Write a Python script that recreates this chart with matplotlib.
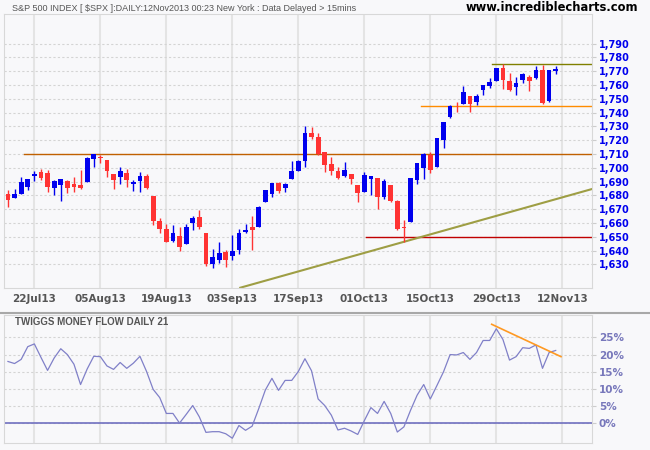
import numpy as np
import pandas as pd
import matplotlib
matplotlib.use('Agg')
import matplotlib.pyplot as plt
from matplotlib.lines import Line2D

# Trading days (market closed on Labor Day)
days = pd.bdate_range('2013-07-16', '2013-11-12').drop(pd.Timestamp('2013-09-02'))

opens = [1681.0, 1677.9, 1681.1, 1686.2, 1694.4, 1696.6, 1696.1, 1685.2, 1687.3, 1690.3,
         1687.9, 1687.8, 1689.4, 1706.1, 1708.0, 1705.8, 1695.3, 1693.4, 1696.1, 1688.4,
         1690.7, 1693.9, 1679.6, 1661.2, 1655.3, 1646.8, 1650.7, 1645.0, 1659.9, 1664.3,
         1652.5, 1630.3, 1633.5, 1638.9, 1636.0, 1640.7, 1653.3, 1657.4, 1656.9, 1675.1,
         1681.0, 1689.2, 1685.0, 1691.7, 1697.7, 1705.0, 1725.5, 1722.4, 1711.4, 1702.6,
         1697.3, 1693.8, 1695.5, 1687.3, 1682.4, 1691.9, 1692.4, 1678.8, 1687.2, 1676.2,
         1657.0, 1660.9, 1691.1, 1699.9, 1709.2, 1700.5, 1720.2, 1736.7, 1744.7, 1746.5,
         1752.3, 1747.5, 1756.0, 1759.4, 1762.9, 1772.3, 1763.2, 1758.7, 1763.4, 1765.7,
         1765.0, 1770.7, 1748.4, 1770.0]
highs = [1683.7, 1684.8, 1693.1, 1692.1, 1697.6, 1698.8, 1698.4, 1690.9, 1691.9, 1690.9,
         1693.2, 1698.4, 1707.9, 1709.7, 1709.2, 1705.8, 1695.3, 1700.2, 1699.4, 1691.5,
         1696.8, 1695.5, 1679.6, 1663.6, 1659.2, 1658.9, 1657.0, 1659.6, 1664.9, 1669.5,
         1652.5, 1641.2, 1646.4, 1640.1, 1651.4, 1655.7, 1659.2, 1664.8, 1672.4, 1684.1,
         1689.1, 1690.0, 1688.7, 1705.0, 1705.5, 1729.9, 1729.4, 1725.2, 1711.4, 1707.6,
         1700.5, 1703.9, 1695.5, 1687.3, 1696.6, 1693.9, 1692.4, 1691.9, 1687.2, 1676.8,
         1662.5, 1692.6, 1703.4, 1711.0, 1711.6, 1721.8, 1733.5, 1745.3, 1747.8, 1759.3,
         1752.3, 1753.2, 1759.8, 1765.0, 1772.1, 1775.2, 1768.5, 1765.7, 1768.8, 1767.0,
         1773.7, 1774.5, 1770.8, 1773.4]
lows = [1671.8, 1677.9, 1681.1, 1684.1, 1690.7, 1691.1, 1682.6, 1680.1, 1676.0, 1681.9,
        1682.4, 1684.9, 1689.4, 1700.7, 1703.6, 1693.3, 1684.9, 1688.4, 1686.0, 1683.4,
        1682.6, 1684.8, 1658.6, 1652.6, 1646.1, 1646.1, 1639.4, 1645.0, 1654.8, 1656.0,
        1629.1, 1627.5, 1630.9, 1628.1, 1633.4, 1637.4, 1653.1, 1640.6, 1656.9, 1675.1,
        1678.7, 1682.0, 1682.2, 1691.7, 1697.7, 1700.4, 1720.7, 1708.9, 1697.1, 1694.9,
        1691.9, 1693.1, 1688.0, 1675.0, 1682.1, 1680.3, 1670.4, 1677.3, 1675.0, 1655.0,
        1646.5, 1660.9, 1688.5, 1692.1, 1695.9, 1700.5, 1714.1, 1735.7, 1740.6, 1746.5,
        1740.5, 1745.2, 1752.5, 1757.7, 1762.9, 1757.2, 1755.7, 1752.7, 1761.6, 1755.8,
        1764.4, 1746.2, 1747.6, 1767.9]
closes = [1676.3, 1680.9, 1689.4, 1692.1, 1695.5, 1692.4, 1685.9, 1690.3, 1691.7, 1685.3,
          1686.0, 1685.7, 1706.9, 1709.7, 1707.1, 1697.4, 1690.9, 1697.5, 1691.4, 1689.5,
          1694.2, 1685.4, 1661.3, 1655.8, 1646.1, 1652.4, 1642.8, 1657.0, 1663.5, 1656.8,
          1630.5, 1635.0, 1638.2, 1633.0, 1639.8, 1653.1, 1655.1, 1655.2, 1671.7, 1684.0,
          1689.1, 1683.4, 1688.0, 1697.6, 1704.8, 1725.5, 1722.3, 1709.9, 1701.8, 1697.4,
          1692.8, 1698.7, 1691.8, 1681.6, 1695.0, 1693.9, 1678.7, 1690.5, 1676.1, 1655.5,
          1656.4, 1692.6, 1703.2, 1710.1, 1698.1, 1721.5, 1733.2, 1744.5, 1744.5, 1754.7,
          1746.4, 1752.1, 1759.8, 1762.1, 1772.0, 1763.3, 1756.5, 1761.6, 1767.9, 1763.0,
          1770.5, 1747.2, 1770.6, 1771.9]

# Twiggs Money Flow (21), percent
tmf = [18.0, 17.4, 18.6, 22.3, 23.1, 19.2, 15.4, 19.0, 21.7, 20.0,
       17.2, 11.3, 15.8, 19.5, 19.4, 16.7, 15.7, 17.7, 16.0, 17.5,
       19.5, 15.1, 9.9, 7.5, 2.9, 2.9, 0.1, 2.6, 5.2, 1.9,
       -2.6, -2.4, -2.4, -3.0, -4.3, -0.6, -2.0, -0.8, 4.3, 9.7,
       13.1, 9.6, 12.5, 12.5, 15.1, 18.8, 15.3, 7.1, 5.2, 2.4,
       -1.9, -1.4, -2.2, -3.2, 0.8, 4.6, 2.9, 6.4, 2.9, -2.5,
       -1.0, 3.8, 8.2, 11.3, 7.1, 11.0, 15.0, 20.0, 19.9, 20.6,
       18.6, 20.6, 24.1, 24.1, 27.5, 24.4, 18.4, 19.4, 22.0, 21.8,
       22.8, 16.0, 20.6, 21.2]

tick_dates = ['2013-07-22', '2013-08-05', '2013-08-19', '2013-09-03', '2013-09-17',
              '2013-10-01', '2013-10-15', '2013-10-29', '2013-11-12']
tick_labels = ['22Jul13', '05Aug13', '19Aug13', '03Sep13', '17Sep13',
               '01Oct13', '15Oct13', '29Oct13', '12Nov13']
price_ticks = list(range(1630, 1800, 10))
tmf_ticks = [0, 5, 10, 15, 20, 25]

# drawn support / resistance levels (start day index, price)
levels = [(2.4, 1710, '#C06000'), (73.3, 1775, '#808000'),
          (62.6, 1745, '#FF8C00'), (54.2, 1650, '#C00000')]
trend_x = [35.2, 88.5]
trend_y = [1613.1, 1684.6]
tmf_trend_x = [73.3, 83.8]
tmf_trend_y = [28.8, 19.4]

bg = '#F8F8FA'
fig = plt.figure(figsize=(6.5, 4.5), dpi=100, facecolor=bg)
ax = fig.add_axes([4/650, 1 - 288/450, 588/650, 274/450], facecolor=bg)
ax2 = fig.add_axes([4/650, 1 - 442.7/450, 588/650, 127.7/450], facecolor=bg)

o = np.array(opens)
h = np.array(highs)
l = np.array(lows)
c = np.array(closes)
x = np.arange(len(c))
tick_pos = days.get_indexer(pd.to_datetime(tick_dates))
xlim = (-0.6, 88.5)

# candles
colors = np.where(c > o, '#0000EE', '#FF3333')
ax.vlines(x, l, h, colors=colors, lw=1, zorder=3)
ax.bar(x, np.maximum(np.abs(c - o), 0.6), width=0.72, bottom=np.minimum(o, c),
       color=colors, linewidth=0, zorder=3)

for start, lev, col in levels:
    ax.plot([start, xlim[1]], [lev, lev], color=col, lw=1.0, zorder=2)
ax.plot(trend_x, trend_y, color='#9E9E44', lw=1.5, zorder=2)

ax.set_xlim(*xlim)
ax.set_ylim(1612.9, 1811.4)
ax.set_xticks(tick_pos)
ax.set_xticklabels(tick_labels)
ax.yaxis.tick_right()
ax.set_yticks(price_ticks)
ax.set_yticklabels([f'{v:,}' for v in price_ticks], fontweight='bold')
ax.tick_params(axis='x', length=0, pad=4, labelsize=7.5, labelcolor='#555555')
ax.tick_params(axis='y', length=3, color='#CCCCCC', pad=2, labelsize=7,
               labelcolor='#0000EE')
for lab in ax.get_xticklabels():
    lab.set_fontweight('bold')
ax.set_axisbelow(True)
ax.grid(axis='x', color='#E4E4E4', lw=1.5)
ax.grid(axis='y', color='#D4D4D4', lw=0.8, ls=(0, (2, 2)))
for s in ax.spines.values():
    s.set_color('#D8D8D8')

# money flow panel
ax2.plot(x, tmf, color='#8080C8', lw=0.9, zorder=3)
ax2.axhline(0, color='#7070C0', lw=1.2, zorder=2)
ax2.plot(tmf_trend_x, tmf_trend_y, color='#FF9922', lw=1.2, zorder=4)
ax2.set_xlim(*xlim)
ax2.set_ylim(-5.6, 31.5)
ax2.set_xticks(tick_pos)
ax2.set_xticklabels([])
ax2.yaxis.tick_right()
ax2.set_yticks(tmf_ticks)
ax2.set_yticklabels([f'{v}%' for v in tmf_ticks], fontweight='bold')
ax2.tick_params(axis='x', length=0)
ax2.tick_params(axis='y', length=3, color='#CCCCCC', pad=2, labelsize=7.5,
                labelcolor='#7777BB')
ax2.set_axisbelow(True)
ax2.grid(axis='x', color='#E4E4E4', lw=1.5)
ax2.grid(axis='y', color='#D4D4D4', lw=0.8, ls=(0, (2, 2)))
for s in ax2.spines.values():
    s.set_color('#D8D8D8')
ax2.text(0.019, 0.92, 'TWIGGS MONEY FLOW DAILY 21', transform=ax2.transAxes,
         family='Liberation Sans', fontweight='bold', fontsize=7, color='#555555',
         va='baseline')

fig.add_artist(Line2D([0, 1], [1 - 313/450] * 2, transform=fig.transFigure,
                      color='#A8A8A8', lw=1.5))
fig.text(12/650, 1 - 11/450,
         'S&P 500 INDEX [ $SPX ]:DAILY:12Nov2013 00:23 New York : Data Delayed > 15mins',
         family='Liberation Sans', fontsize=6.5, color='#555555', va='baseline')
fig.text(638/650, 1 - 11/450, 'www.incrediblecharts.com', family='DejaVu Sans',
         fontweight='bold', fontsize=8.3, color='black', ha='right', va='baseline')

fig.savefig('out.png', dpi=100, facecolor=bg)
